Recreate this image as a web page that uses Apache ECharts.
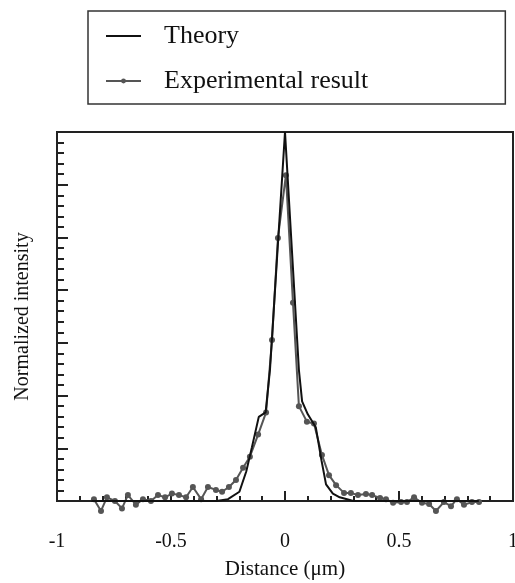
<!DOCTYPE html>
<html>
<head>
<meta charset="utf-8">
<script src="https://cdn.jsdelivr.net/npm/echarts@6/dist/echarts.min.js"></script>
<style>
  html, body { margin: 0; padding: 0; background: #fff; }
  #myChart { width: 515px; height: 583px; }
</style>
</head>
<body>
<div id="myChart"></div>
<script>
// 理论曲线
const theoryX = [-0.85, -0.3, -0.25, -0.2, -0.17, -0.145, -0.115, -0.085, -0.066, 0, 0.061, 0.075, 0.1, 0.135, 0.16, 0.18, 0.21, 0.24, 0.3, 0.85];
const theoryY = [0, 0, 0.005, 0.025, 0.08, 0.146, 0.228, 0.24, 0.355, 1, 0.355, 0.27, 0.235, 0.2, 0.11, 0.045, 0.02, 0.01, 0, 0];

// 实验结果
const expX = [-0.838, -0.807, -0.781, -0.746, -0.715, -0.689, -0.654, -0.623, -0.588, -0.557,
  -0.526, -0.496, -0.465, -0.434, -0.404, -0.368, -0.338, -0.303, -0.276, -0.246,
  -0.215, -0.184, -0.154, -0.118, -0.083, -0.057, -0.031, 0.004, 0.035, 0.061,
  0.096, 0.127, 0.162, 0.193, 0.224, 0.259, 0.289, 0.32, 0.355, 0.382,
  0.417, 0.443, 0.474, 0.509, 0.535, 0.566, 0.601, 0.632, 0.662, 0.697,
  0.728, 0.754, 0.785, 0.82, 0.851];
const expY = [0.005, -0.027, 0.01, 0, -0.02, 0.016, -0.01, 0.005, 0, 0.016,
  0.01, 0.02, 0.016, 0.01, 0.038, 0.005, 0.038, 0.03, 0.025, 0.038,
  0.057, 0.09, 0.12, 0.18, 0.24, 0.436, 0.713, 0.883, 0.537, 0.257,
  0.215, 0.21, 0.125, 0.07, 0.043, 0.022, 0.022, 0.016, 0.019, 0.016,
  0.008, 0.005, -0.005, -0.003, -0.003, 0.01, -0.005, -0.008, -0.027, -0.003,
  -0.014, 0.005, -0.01, -0.003, -0.003];

const xTicks = ['-1', '-0.5', '0', '0.5', '1'];

const serif = "'Liberation Serif', 'Times New Roman', serif";

const option = {
  animation: false,
  legend: {
    orient: 'vertical',
    left: 88,
    top: 11,
    padding: [12, 137, 10, 17],
    itemGap: 19,
    itemWidth: 35,
    itemHeight: 6,
    borderColor: '#333',
    borderWidth: 1.5,
    textStyle: { fontFamily: serif, fontSize: 26, color: '#111', padding: [0, 0, 0, 18] },
    data: [
      { name: 'Theory', itemStyle: { opacity: 0 } },
      { name: 'Experimental result' }
    ]
  },
  grid: {
    left: 57,
    right: 2,
    top: 132,
    bottom: 82,
    show: true,
    borderColor: '#222',
    borderWidth: 2,
    outerBoundsMode: 'none'
  },
  xAxis: {
    type: 'value',
    min: -1,
    max: 1,
    interval: 0.5,
    name: 'Distance (μm)',
    nameLocation: 'middle',
    nameGap: 58,
    nameTextStyle: { fontFamily: serif, fontSize: 21, color: '#111' },
    axisLine: { onZero: false, lineStyle: { color: '#222', width: 2 } },
    axisTick: { inside: true, length: 10, lineStyle: { color: '#222', width: 2 } },
    minorTick: { show: true, splitNumber: 5, length: 5, lineStyle: { color: '#222', width: 2 } },
    splitLine: { show: false },
    axisLabel: {
      margin: 31,
      fontFamily: serif,
      fontSize: 20,
      color: '#111',
      formatter: function(v) {
        return xTicks[Math.round((v + 1) / 0.5)];
      }
    }
  },
  yAxis: {
    type: 'value',
    min: 0,
    max: 1,
    interval: 1 / 7,
    name: 'Normalized intensity',
    nameLocation: 'middle',
    nameGap: 24,
    nameTextStyle: { fontFamily: serif, fontSize: 20, color: '#111' },
    axisLine: { onZero: false, lineStyle: { color: '#222', width: 2 } },
    axisTick: { inside: true, length: 11, lineStyle: { color: '#222', width: 2 } },
    minorTick: { show: true, splitNumber: 5, length: 7, lineStyle: { color: '#222', width: 2 } },
    splitLine: { show: false },
    axisLabel: { show: false }
  },
  series: [
    {
      name: 'Theory',
      type: 'line',
      symbol: 'none',
      clip: false,
      data: theoryX.map((x, i) => [x, theoryY[i]]),
      lineStyle: { color: '#111', width: 2 },
      itemStyle: { color: '#111' },
      z: 3
    },
    {
      name: 'Experimental result',
      type: 'line',
      symbol: 'circle',
      symbolSize: 6,
      clip: false,
      data: expX.map((x, i) => [x, expY[i]]),
      lineStyle: { color: '#555', width: 2 },
      itemStyle: { color: '#555' },
      z: 2
    }
  ]
};

const myChart = echarts.init(document.getElementById('myChart'));
myChart.setOption(option, true);
</script>
</body>
</html>
